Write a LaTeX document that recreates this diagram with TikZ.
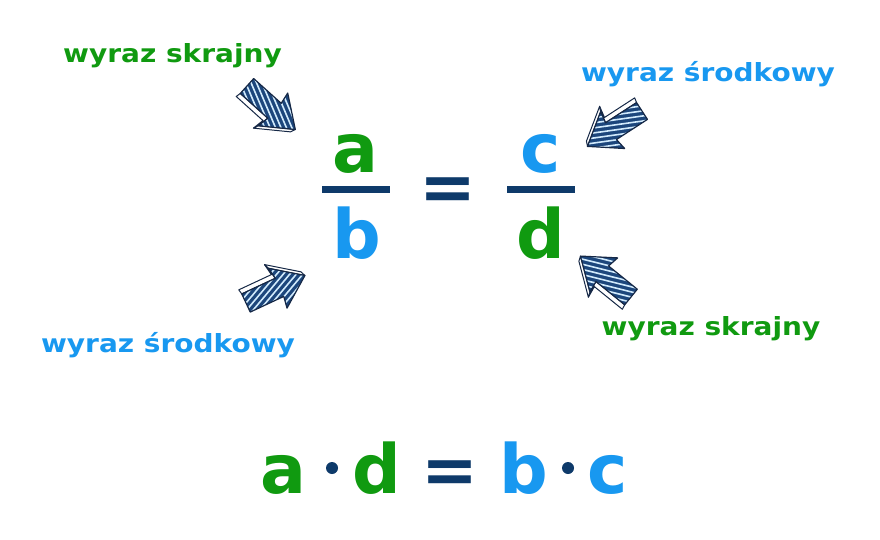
\documentclass[tikz,border=0pt]{standalone}
\usepackage{fontspec}
\setmainfont{DejaVu Sans}
\newfontfamily\wfont{DejaVu Sans Bold}[FakeStretch=1.12]
\newfontfamily\bfont{DejaVu Sans Bold}
\definecolor{tgreen}{RGB}{16,154,16}
\definecolor{tblue}{RGB}{24,152,240}
\definecolor{tnavy}{RGB}{14,58,106}
\definecolor{afill}{RGB}{28,70,124}
\definecolor{adark}{RGB}{22,40,70}
\tikzset{
  lbl/.style={font=\fontsize{25}{28}\wfont, anchor=base, inner sep=0pt},
  big/.style={font=\fontsize{68}{76}\bfont, anchor=base, inner sep=0pt},
  dotm/.style={fill=tnavy},
  harrow/.pic={
    \def\arrowpath{(0,-10) -- (37,-10) -- (35,-22) -- (65,0) -- (35,22) -- (37,10) -- (0,10) -- cycle}
    \fill[white,draw=adark,line width=1pt,line join=round] (0,-10) -- (37,-10) -- (35,-22) -- (33,-27) -- (35,-15) -- (-1,-15) -- cycle;
    \fill[white,draw=adark,line width=1pt,line join=round] (35,-22) -- (65,0) -- (63,-5) -- (33,-27) -- cycle;
    \fill[afill] \arrowpath;
    \begin{scope}
      \clip \arrowpath;
      \foreach \j in {-70,-65,...,70} \draw[white!80!tblue, line width=1.6pt, rotate=-25] (-100,\j) -- (160,\j);
    \end{scope}
    \draw[adark, line width=1.2pt, line join=round] \arrowpath;
  }
}
\begin{document}
\begin{tikzpicture}[x=1pt,y=1pt]
\useasboundingbox (0,0) rectangle (880,-540);
\fill[white] (0,0) rectangle (880,-540);
% labels
\node[lbl, text=tgreen] (l1) at (172.5,-62.5) {wyraz skrajny};
\node[lbl, text=tblue] (l2) at (708,-81.5) {wyraz środkowy};
\node[lbl, text=tblue] (l3) at (168,-352) {wyraz środkowy};
\node[lbl, text=tgreen] (l4) at (711,-335) {wyraz skrajny};
% fraction
\node[big, text=tgreen] (a) at (355,-173) {a};
\node[big, text=tblue] (b) at (357,-258) {b};
\node[big, text=tblue] (c) at (541,-173) {c};
\node[big, text=tgreen] (d) at (541,-258) {d};
\fill[tnavy] (322,-186) rectangle (390,-193);
\fill[tnavy] (507,-186) rectangle (575,-193);
\node[big, text=tnavy] (eq1) at (448,-210) {=};
% arrows
\pic[rotate=-42] at (247,-86) {harrow};
\pic[rotate=213] at (642,-111) {harrow};
\pic[rotate=25, yscale=-1] at (246,-303) {harrow};
\pic[rotate=141, yscale=-1] at (631,-297) {harrow};
% bottom equation
\node[big, text=tgreen] (a2) at (283,-493) {a};
\fill[dotm] (332,-468) circle (6);
\node[big, text=tgreen] (d2) at (377,-493) {d};
\node[big, text=tnavy] (eq2) at (450,-493) {=};
\node[big, text=tblue] (b2) at (524,-493) {b};
\fill[dotm] (568,-468) circle (6);
\node[big, text=tblue] (c2) at (608,-493) {c};
\end{tikzpicture}
\end{document}
